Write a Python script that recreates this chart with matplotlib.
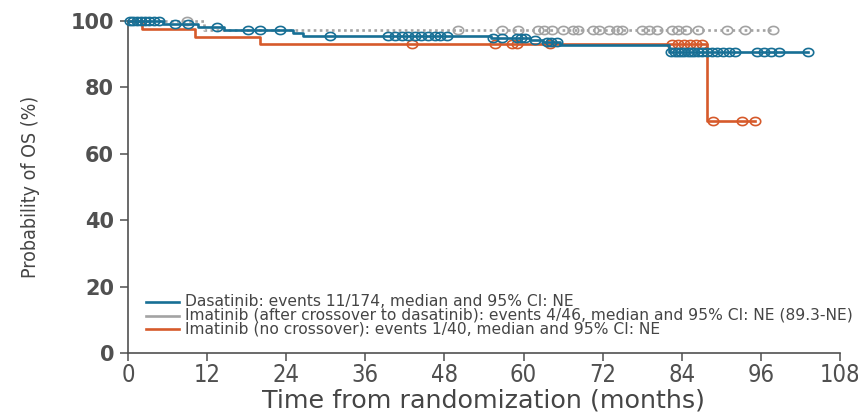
import numpy as np
import matplotlib
matplotlib.use("Agg")
import matplotlib.pyplot as plt
from matplotlib import font_manager
from matplotlib.font_manager import FontProperties
from matplotlib.lines import Line2D
from matplotlib.path import Path

# ---- Kaplan-Meier step data (time in months, survival in %) ----
dasa_times = [0, 5.3, 10.6, 14.6, 25.0, 26.5, 55.0, 61.0, 63.0, 65.5, 82.0]
dasa_surv = [100, 99.2, 98.3, 97.3, 96.4, 95.6, 94.8, 94.2, 93.7, 92.9, 90.7]
dasa_censor = [0.3, 0.8, 1.3, 1.9, 2.6, 3.2, 4.0, 4.7,
               7.1, 9.1, 13.5, 18.2, 20.0, 23.1, 30.6,
               39.4, 40.5, 41.6, 42.5, 43.5, 44.4, 45.5, 46.5, 47.4, 48.4,
               55.4, 56.7, 59.0, 59.6, 60.2, 61.7, 63.5, 64.2, 65.0,
               82.4, 82.9, 83.4, 83.9, 84.4, 84.9, 85.4, 85.9, 86.4, 87.0,
               87.8, 88.6, 89.4, 90.3, 91.1, 92.0,
               95.4, 96.5, 97.6, 98.8, 103.1]
dasa_end = 103.1

imat_x_times = [0, 11.5]
imat_x_surv = [100, 97.2]
imat_x_censor = [9.0, 50.0, 56.7, 59.2, 62.2, 63.1, 64.3, 66.0, 67.5, 68.2,
                 70.6, 71.5, 73.0, 74.2, 75.0, 78.0, 79.1, 80.2, 82.5, 83.5,
                 84.6, 86.4, 90.9, 93.6, 97.8]
imat_x_end = 97.8

imat_n_times = [0, 2.1, 10.2, 20.0, 87.9]
imat_n_surv = [100, 97.5, 95.3, 93.2, 69.8]
imat_n_censor = [43.1, 55.7, 58.2, 59.0, 64.0, 82.5, 83.4, 84.3, 85.2, 86.1,
                 87.0, 88.7, 93.1, 95.1]
imat_n_end = 95.1

labels = [
    "Dasatinib: events 11/174, median and 95% CI: NE",
    "Imatinib (after crossover to dasatinib): events 4/46, median and 95% CI: NE (89.3-NE)",
    "Imatinib (no crossover): events 1/40, median and 95% CI: NE",
]
x_ticks = [0, 12, 24, 36, 48, 60, 72, 84, 96, 108]
y_ticks = [0, 20, 40, 60, 80, 100]

BLUE = "#176f95"
GRAY = "#a3a3a3"
ORANGE = "#d65a2b"
AXIS = "#505050"
TEXT = "#454545"


def find_condensed():
    """Return the path of a narrow sans-serif font, or None."""
    fonts = font_manager.fontManager.ttflist
    prefs = ["Liberation Sans Narrow", "DejaVu Sans", "Roboto Condensed",
             "Open Sans Condensed", "Noto Sans", "Roboto", "Open Sans"]
    def is_narrow(f):
        fn = f.fname.lower()
        return ("condensed" in fn or "narrow" in fn or
                f.stretch in ("condensed", "semi-condensed"))
    pool = [f for f in fonts if is_narrow(f) and f.style == "normal"
            and f.weight in (400, "normal", "regular")
            and "bold" not in f.fname.lower() and "semi" not in f.fname.lower()]
    for name in prefs:
        for f in pool:
            if f.name == name:
                return f.fname
    return pool[0].fname if pool else None


narrow_path = find_condensed()


def narrow_fp(size):
    if narrow_path:
        return FontProperties(fname=narrow_path, size=size)
    return FontProperties(family="DejaVu Sans", size=size * 0.9)


# censor tick: slightly flattened open circle
theta = np.linspace(0, 2 * np.pi, 40)
ellipse = Path(np.column_stack([np.cos(theta), 0.78 * np.sin(theta)]), closed=True)

fig = plt.figure(figsize=(8.58, 4.13), dpi=100)
ax = fig.add_axes([128 / 858, 1 - 353 / 413, 712 / 858, 332 / 413])


def surv_at(times, surv, t):
    idx = np.searchsorted(np.asarray(times), np.asarray(t), side="right") - 1
    return np.asarray(surv)[idx]


def km(times, surv, censor, end, color, ls, z):
    xs = list(times) + [end]
    ys = list(surv) + [surv[-1]]
    ax.step(xs, ys, where="post", color=color, lw=1.9, ls=ls,
            zorder=z, clip_on=False)
    cy = surv_at(times, surv, censor)
    ax.plot(censor, cy, ls="none", marker=ellipse, ms=7.5, mfc="none",
            mec=color, mew=1.2, zorder=z, clip_on=False)


km(imat_x_times, imat_x_surv, imat_x_censor, imat_x_end, GRAY, (0, (1, 1.3)), 2)
km(imat_n_times, imat_n_surv, imat_n_censor, imat_n_end, ORANGE, "-", 3)
km(dasa_times, dasa_surv, dasa_censor, dasa_end, BLUE, "-", 4)

ax.set_xlim(0, 108)
ax.set_ylim(0, 100)
ax.set_xticks(x_ticks)
ax.set_yticks(y_ticks)
ax.set_xticklabels([str(v) for v in x_ticks], fontproperties=narrow_fp(17), color=AXIS)
ax.set_yticklabels([str(v) for v in y_ticks], fontsize=15, fontweight="bold", color=AXIS)
ax.tick_params(axis="x", direction="out", length=6, width=1.1, color=AXIS, pad=1)
ax.tick_params(axis="y", direction="out", length=6, width=1.1, color=AXIS, pad=4)
for side in ("top", "right"):
    ax.spines[side].set_visible(False)
for side in ("left", "bottom"):
    ax.spines[side].set_color(AXIS)
    ax.spines[side].set_linewidth(1.2)

ax.set_xlabel("Time from randomization (months)", fontsize=18.3, color=TEXT, labelpad=1)
ax.set_ylabel("Probability of OS (%)", fontproperties=narrow_fp(14), color=TEXT, labelpad=22)

# legend drawn in figure pixel space
W, H = 858, 413
row_y = [302, 315.5, 329]
for color, label, y in zip((BLUE, GRAY, ORANGE), labels, row_y):
    fig.add_artist(Line2D([146 / W, 179 / W], [1 - y / H, 1 - y / H],
                          color=color, lw=1.9, transform=fig.transFigure))
    fig.text(185 / W, 1 - y / H, label, fontsize=11.15, color=TEXT,
             va="center", ha="left")

fig.savefig("out.png", dpi=100, facecolor="white")
